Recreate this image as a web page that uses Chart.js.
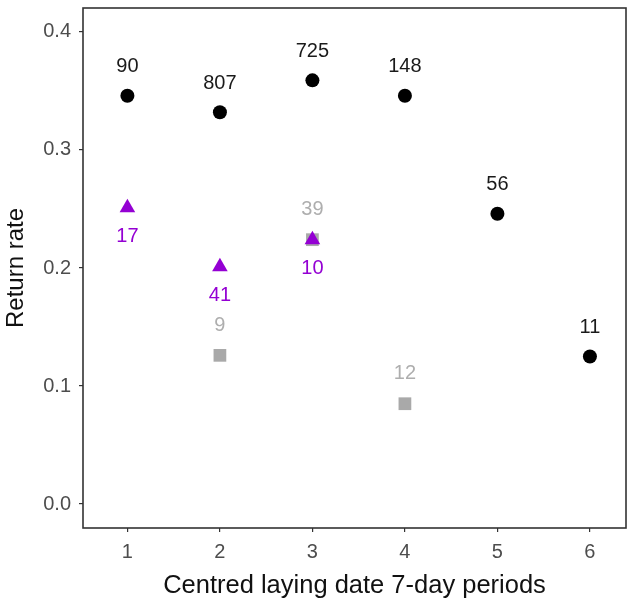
<!DOCTYPE html>
<html>
<head>
<meta charset="utf-8">
<script src="https://cdn.jsdelivr.net/npm/chart.js@4.4.1/dist/chart.umd.min.js"></script>
<style>
html,body{margin:0;padding:0;background:#fff;}
#wrap{position:relative;width:627px;height:605px;}
</style>
</head>
<body>
<div id="wrap"><canvas id="c" width="627" height="605"></canvas></div>
<script>
// Data
const periods = [1, 2, 3, 4, 5, 6];
const allRate = [0.346, 0.332, 0.359, 0.346, 0.246, 0.125];
const allN = [90, 807, 725, 148, 56, 11];

const purplePeriods = [1, 2, 3];
const purpleRate = [0.251, 0.201, 0.224];
const purpleN = [17, 41, 10];

const greyPeriods = [2, 3, 4];
const greyRate = [0.126, 0.224, 0.085];
const greyN = [9, 39, 12];

const yTicks = [0.0, 0.1, 0.2, 0.3, 0.4];
const xTicks = [1, 2, 3, 4, 5, 6];

const FONT = '"Liberation Sans", Arial, sans-serif';
const pts = (xs, ys) => xs.map((x, i) => ({x: x, y: ys[i]}));

const labelPlugin = {
  id: 'pointLabels',
  afterDatasetsDraw(chart) {
    const ctx = chart.ctx;
    ctx.save();
    ctx.font = '20px ' + FONT;
    ctx.textAlign = 'center';
    ctx.textBaseline = 'middle';
    chart.data.datasets.forEach((ds, di) => {
      const meta = chart.getDatasetMeta(di);
      meta.data.forEach((el, i) => {
        ctx.fillStyle = ds.labelColor;
        ctx.fillText(String(ds.labels[i]), el.x, el.y + ds.labelOffset);
      });
    });
    ctx.restore();
  }
};

const framePlugin = {
  id: 'frame',
  afterDraw(chart) {
    const a = chart.chartArea;
    const ctx = chart.ctx;
    ctx.save();
    ctx.strokeStyle = '#333333';
    ctx.lineWidth = 1.6;
    ctx.strokeRect(a.left, a.top, a.right - a.left, a.bottom - a.top);
    ctx.restore();
  }
};

new Chart(document.getElementById('c'), {
  type: 'scatter',
  data: {
    datasets: [
      {
        data: pts(periods, allRate), labels: allN,
        pointStyle: 'circle', pointRadius: 7, pointHoverRadius: 7,
        backgroundColor: '#000000', borderColor: '#000000', borderWidth: 0,
        labelColor: '#1a1a1a', labelOffset: -29
      },
      {
        data: pts(purplePeriods, purpleRate), labels: purpleN,
        pointStyle: 'triangle', pointRadius: 9, pointHoverRadius: 9,
        backgroundColor: '#9400D3', borderColor: '#9400D3', borderWidth: 0,
        labelColor: '#9400D3', labelOffset: 29
      },
      {
        data: pts(greyPeriods, greyRate), labels: greyN,
        pointStyle: 'rect', pointRadius: 9, pointHoverRadius: 9,
        backgroundColor: '#A9A9A9', borderColor: '#A9A9A9', borderWidth: 0,
        labelColor: '#AEAEAE', labelOffset: -30
      }
    ]
  },
  options: {
    responsive: false,
    animation: false,
    events: [],
    layout: {autoPadding: false, padding: {top: 8, right: 1, left: 0, bottom: 0}},
    plugins: {legend: {display: false}, tooltip: {enabled: false}},
    scales: {
      x: {
        type: 'linear', min: 0.52, max: 6.39,
        afterBuildTicks: s => { s.ticks = xTicks.map(v => ({value: v})); },
        afterFit: s => { s.height = 77; s.paddingLeft = 0; s.paddingRight = 0; },
        grid: {drawOnChartArea: false, drawTicks: true, tickLength: 4, color: '#333333', lineWidth: 1.2},
        border: {display: false},
        ticks: {color: '#4d4d4d', font: {size: 20, family: FONT}, padding: 8,
                callback: v => String(v)},
        title: {display: true, text: 'Centred laying date 7-day periods', color: '#111',
                font: {size: 25.5, family: FONT}, padding: {top: 4, bottom: 4}}
      },
      y: {
        type: 'linear', min: -0.0203, max: 0.4203,
        afterBuildTicks: s => { s.ticks = yTicks.map(v => ({value: v})); },
        afterFit: s => { s.width = 83; s.paddingTop = 0; s.paddingBottom = 0; },
        grid: {drawOnChartArea: false, drawTicks: true, tickLength: 4, color: '#333333', lineWidth: 1.2},
        border: {display: false},
        ticks: {color: '#4d4d4d', font: {size: 20, family: FONT}, padding: 8,
                callback: v => Number(v).toFixed(1)},
        title: {display: true, text: 'Return rate', color: '#111',
                font: {size: 24, family: FONT}, padding: {top: 2, bottom: 4}}
      }
    }
  },
  plugins: [labelPlugin, framePlugin]
});
</script>
</body>
</html>
